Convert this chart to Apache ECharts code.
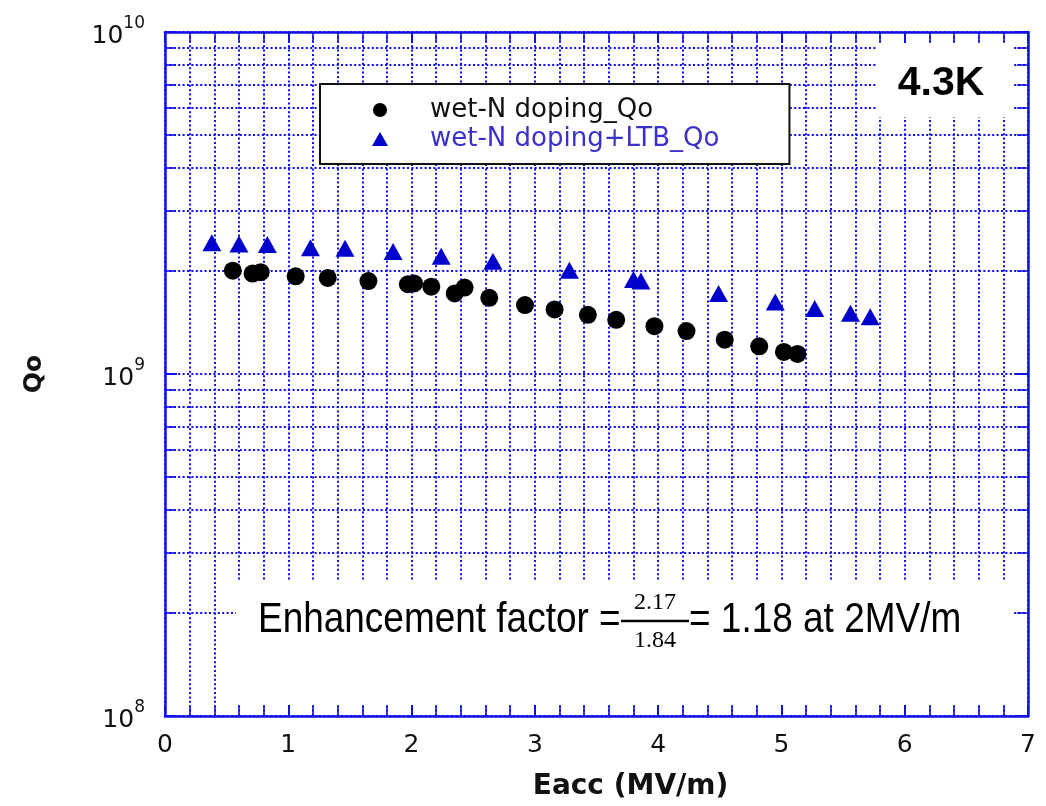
<!DOCTYPE html>
<html><head><meta charset="utf-8">
<script src="https://cdn.jsdelivr.net/npm/echarts@6/dist/echarts.min.js"></script>
<style>html,body{margin:0;padding:0;background:#fff}#c{width:1046px;height:806px}</style>
</head><body><div id="c"></div>
<script>
// Data
const seriesNames = ['wet-N doping_Qo', 'wet-N doping+LTB_Qo'];
const eaccWet = [0.55, 0.71, 0.776, 1.06, 1.32, 1.65, 1.97, 2.02, 2.16, 2.35, 2.43, 2.63, 2.92, 3.16, 3.43, 3.66, 3.97, 4.23, 4.54, 4.82, 5.02, 5.13];
const qoWet   = [2.005e9, 1.966e9, 1.985e9, 1.93e9, 1.91e9, 1.87e9, 1.83e9, 1.84e9, 1.80e9, 1.72e9, 1.79e9, 1.67e9, 1.59e9, 1.545e9, 1.49e9, 1.44e9, 1.38e9, 1.335e9, 1.26e9, 1.205e9, 1.16e9, 1.145e9];
const eaccLtb = [0.38, 0.60, 0.83, 1.18, 1.46, 1.85, 2.24, 2.66, 3.28, 3.80, 3.86, 4.49, 4.95, 5.27, 5.56, 5.72];
const qoLtb   = [2.42e9, 2.40e9, 2.39e9, 2.34e9, 2.33e9, 2.28e9, 2.21e9, 2.135e9, 2.01e9, 1.89e9, 1.87e9, 1.72e9, 1.625e9, 1.555e9, 1.505e9, 1.47e9];
const xRange = [0, 7];
const yRange = [1e8, 1e10];
const xTitle = 'Eacc (MV/m)';
const yTitle = 'Qo';
const tempLabel = '4.3K';
const noteLeft = 'Enhancement factor =';
const noteNum = '2.17';
const noteDen = '1.84';
const noteRight = '= 1.18 at 2MV/m';

const BLUE = '#1010e8';
const GRIDC = '#0a0aff';
const dotted = {color: GRIDC, width: 2, type: [2, 2.4]};

const chart = echarts.init(document.getElementById('c'), null, {renderer: 'canvas'});
const yFmt = v => '{b|10}{s|' + Math.round(Math.log10(v)) + '}';

const baseX = {
  type: 'value', min: xRange[0], max: xRange[1], interval: 1,
  axisLine: {show: true, onZero: false, lineStyle: {color: BLUE, width: 2.5}},
  axisTick: {show: true, inside: true, length: 11, lineStyle: {color: BLUE, width: 2}},
  minorTick: {show: true, splitNumber: 5, length: 10, lineStyle: {color: BLUE, width: 1.6}},
};
const baseY = {
  type: 'log', logBase: 10, min: yRange[0], max: yRange[1],
  axisLine: {show: true, onZero: false, lineStyle: {color: BLUE, width: 2.5}},
  axisTick: {show: true, inside: true, length: 12, lineStyle: {color: BLUE, width: 2}},
  minorTick: {show: true, splitNumber: 9, length: 11, lineStyle: {color: BLUE, width: 1.6}},
};

chart.setOption({
  animation: false,
  backgroundColor: '#fff',
  grid: {left: 165, right: 18, top: 32, bottom: 84},
  xAxis: [
    Object.assign({}, baseX, {
      position: 'bottom',
      splitLine: {show: true, lineStyle: dotted},
      minorSplitLine: {show: true, lineStyle: dotted},
      axisLabel: {fontSize: 25, fontFamily: 'DejaVu Sans', color: '#111', margin: 17},
      name: xTitle, nameLocation: 'middle', nameGap: 57,
      nameTextStyle: {fontSize: 28, fontWeight: 'bold', fontFamily: 'DejaVu Sans', color: '#111', padding: [0, 0, 0, 68]}
    }),
    Object.assign({}, baseX, {
      position: 'top', axisLabel: {show: false},
      splitLine: {show: false}, minorSplitLine: {show: false}
    })
  ],
  yAxis: [
    Object.assign({}, baseY, {
      position: 'left',
      splitLine: {show: true, lineStyle: dotted},
      minorSplitLine: {show: true, lineStyle: dotted},
      axisLabel: {
        formatter: yFmt, margin: 20, color: '#111',
        rich: {
          b: {fontSize: 25, fontFamily: 'DejaVu Sans', color: '#111', lineHeight: 34, verticalAlign: 'bottom'},
          s: {fontSize: 17, fontFamily: 'DejaVu Sans', color: '#111', verticalAlign: 'top', lineHeight: 34}
        }
      },
      name: yTitle, nameLocation: 'middle', nameGap: 118, nameRotate: 90,
      nameTextStyle: {fontSize: 25, fontWeight: 'bold', fontFamily: 'DejaVu Sans', color: '#111'}
    }),
    Object.assign({}, baseY, {
      position: 'right', axisLabel: {show: false},
      splitLine: {show: false}, minorSplitLine: {show: false}
    })
  ],
  legend: {
    orient: 'vertical', left: 320, top: 84,
    itemWidth: 16, itemHeight: 14, itemGap: 3,
    padding: [13, 70, 12, 52],
    borderColor: '#111', borderWidth: 2, backgroundColor: '#fff',
    textStyle: {fontSize: 26, fontFamily: 'DejaVu Sans', color: '#111', padding: [0, 0, 0, 37]},
    z: 20,
    data: [
      {name: seriesNames[0], icon: 'circle'},
      {name: seriesNames[1], icon: 'triangle', textStyle: {color: '#3a30cc', padding: [0, 0, 0, 37]}}
    ]
  },
  series: [
    {
      name: seriesNames[0], type: 'scatter', symbol: 'circle', symbolSize: 18,
      itemStyle: {color: '#000', opacity: 1}, z: 5,
      data: eaccWet.map((x, i) => [x, qoWet[i]])
    },
    {
      name: seriesNames[1], type: 'scatter', symbol: 'triangle', symbolSize: [19, 17],
      itemStyle: {color: '#0000cc', opacity: 1}, z: 5,
      data: eaccLtb.map((x, i) => [x, qoLtb[i]])
    }
  ],
  graphic: [
    {type: 'rect', z: 50, shape: {x: 876, y: 45, width: 137, height: 72}, style: {fill: '#fff'}},
    {type: 'text', z: 51, x: 941, y: 84, style: {text: tempLabel, fontSize: 41, fontWeight: 'bold', fontFamily: 'Liberation Sans', fill: '#000', align: 'center', verticalAlign: 'middle'}},
    {type: 'rect', z: 50, shape: {x: 236, y: 580, width: 776, height: 125}, style: {fill: '#fff'}},
    {type: 'text', z: 51, x: 258, y: 620, scaleX: 0.88, style: {text: noteLeft, fontSize: 42, fontFamily: 'Liberation Sans', fill: '#000', align: 'left', verticalAlign: 'middle'}},
    {type: 'text', z: 51, x: 655, y: 603, style: {text: noteNum, fontSize: 24, fontFamily: 'Liberation Serif', fill: '#000', align: 'center', verticalAlign: 'middle'}},
    {type: 'line', z: 51, shape: {x1: 621, y1: 621, x2: 689, y2: 621}, style: {stroke: '#000', lineWidth: 2.5}},
    {type: 'text', z: 51, x: 655, y: 641, style: {text: noteDen, fontSize: 24, fontFamily: 'Liberation Serif', fill: '#000', align: 'center', verticalAlign: 'middle'}},
    {type: 'text', z: 51, x: 689, y: 620, scaleX: 0.88, style: {text: noteRight, fontSize: 42, fontFamily: 'Liberation Sans', fill: '#000', align: 'left', verticalAlign: 'middle'}}
  ]
});
</script></body></html>
